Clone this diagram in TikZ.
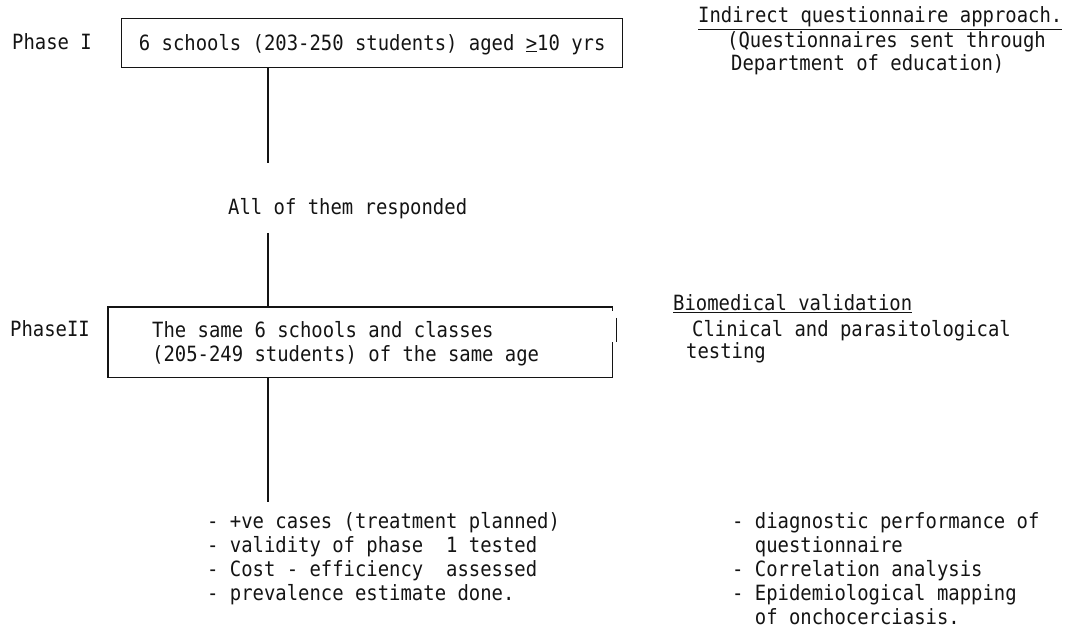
\documentclass[tikz,border=0pt]{standalone}
\usepackage{fontspec}
\newfontfamily\typ[FakeStretch=0.9,WordSpace={1,0,0}]{DejaVu Sans Mono}
\definecolor{ink}{HTML}{141414}
\begin{document}
\begin{tikzpicture}[x=1pt,y=-1pt,
  txt/.style={anchor=base west,inner sep=0pt,text=ink,font=\typ\fontsize{21}{24}\selectfont},
  lst/.style={anchor=north west,inner sep=0pt,align=left,text=ink,font=\typ\fontsize{21}{24}\selectfont},
  frame/.style={line width=1.4pt,draw=ink},
  conn/.style={line width=1.4pt,draw=ink}]
\useasboundingbox[fill=white] (0,0) rectangle (1069,631);

% Phase I
\node[txt] (p1) at (12,50) {Phase I};
\node[frame,anchor=north west,minimum width=501,minimum height=49,inner sep=0pt,
      text height=16,text depth=2,
      text=ink,font=\typ\fontsize{21}{24}\selectfont] (b1) at (121,18)
  {6 schools (203-250 students) aged \underline{>}10 yrs};

\node[txt] (r1a) at (698,23) {\underline{Indirect questionnaire approach.}};
\node[txt] (r1b) at (727,48) {(Questionnaires sent through};
\node[txt] (r1c) at (731,71) {Department of education)};

% middle
\coordinate (c1) at (268,163);
\node[txt] (resp) at (228,215) {All of them responded};
\coordinate (c2) at (268,233);

% Phase II
\node[txt] (p2) at (10,337) {PhaseII};
\node[anchor=north west,minimum width=504,minimum height=70,inner sep=0pt] (b2) at (108,307) {};
\node[lst,anchor=north west] (t2) at (152,321) {The same 6 schools and classes\\(205-249 students) of the same age};
\draw[frame] ([yshift=-4]b2.north east) -- (b2.north east) -- (b2.north west)
  -- (b2.south west) -- (b2.south east) -- ([yshift=35]b2.south east);
\draw[frame] ([xshift=4,yshift=-11]b2.north east) -- ([xshift=4,yshift=-35]b2.north east);

\node[txt] (r2a) at (673,311) {\underline{Biomedical validation}};
\node[txt] (r2b) at (692,336) {Clinical and parasitological};
\node[txt] (r2c) at (686,359) {testing};

\coordinate (c3) at (268,502);

% results
\node[lst] (l1) at (207,512) {- +ve cases (treatment planned)\\- validity of phase\ \ 1 tested\\- Cost - efficiency\ \ assessed\\- prevalence estimate done.};
\node[lst] (l2) at (732,512) {- diagnostic performance of\\\ \ questionnaire\\- Correlation analysis\\- Epidemiological mapping\\\ \ of onchocerciasis.};

% connectors
\draw[conn] (b1.south -| c1) -- (c1);
\draw[conn] (c2) -- (b2.north -| c2);
\draw[conn] (b2.south -| c3) -- (c3);
\end{tikzpicture}
\end{document}
